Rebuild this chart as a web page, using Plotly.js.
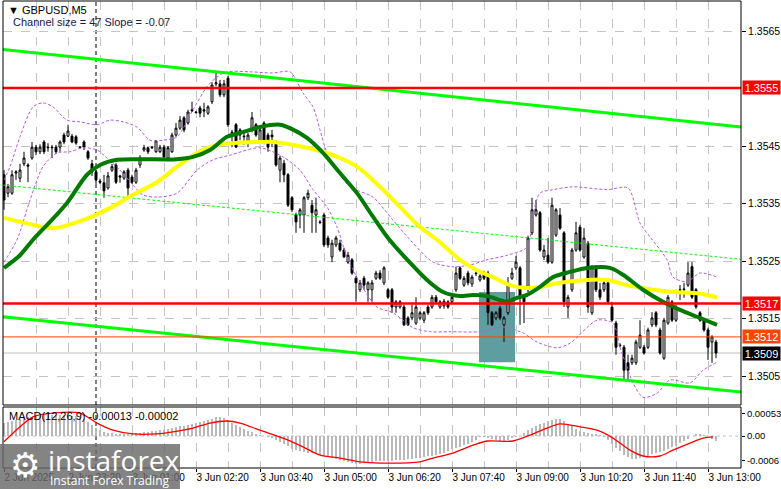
<!DOCTYPE html>
<html><head><meta charset="utf-8">
<script src="https://cdn.plot.ly/plotly-3.0.1.min.js"></script>
<style>html,body{margin:0;padding:0;background:#fff;}#chart{width:781px;height:489px;}</style>
</head><body><div id="chart"></div>
<script>
// ---- OHLC (GBPUSD M5), one entry per bar ----
const open=[1.35400,1.35368,1.35368,1.35403,1.35394,1.35419,1.35417,1.35429,1.35448,1.35440,1.35457,1.35448,1.35448,1.35448,1.35448,1.35469,1.35467,1.35467,1.35466,1.35448,1.35457,1.35440,1.35419,1.35405,1.35389,1.35386,1.35377,1.35408,1.35417,1.35398,1.35394,1.35408,1.35396,1.35387,1.35417,1.35443,1.35447,1.35448,1.35440,1.35440,1.35448,1.35429,1.35440,1.35469,1.35481,1.35499,1.35490,1.35513,1.35509,1.35516,1.35513,1.35507,1.35527,1.35558,1.35558,1.35539,1.35568,1.35474,1.35487,1.35478,1.35466,1.35457,1.35478,1.35487,1.35457,1.35490,1.35469,1.35469,1.35457,1.35408,1.35420,1.35400,1.35360,1.35330,1.35330,1.35330,1.35360,1.35347,1.35330,1.35318,1.35330,1.35290,1.35257,1.35278,1.35281,1.35269,1.35248,1.35252,1.35220,1.35200,1.35220,1.35200,1.35200,1.35220,1.35229,1.35212,1.35200,1.35200,1.35170,1.35170,1.35170,1.35151,1.35151,1.35142,1.35151,1.35147,1.35170,1.35170,1.35187,1.35170,1.35172,1.35179,1.35179,1.35200,1.35238,1.35208,1.35229,1.35210,1.35229,1.35217,1.35229,1.35229,1.35160,1.35151,1.35168,1.35139,1.35160,1.35220,1.35238,1.35238,1.35187,1.35200,1.35299,1.35330,1.35334,1.35257,1.35260,1.35248,1.35295,1.35330,1.35299,1.35170,1.35200,1.35269,1.35309,1.35257,1.35281,1.35160,1.35240,1.35200,1.35200,1.35212,1.35170,1.35142,1.35104,1.35100,1.35073,1.35073,1.35073,1.35100,1.35100,1.35100,1.35139,1.35160,1.35130,1.35081,1.35142,1.35179,1.35147,1.35200,1.35200,1.35208,1.35240,1.35200,1.35160,1.35147,1.35130,1.35109,1.35109];
const high=[1.35408,1.35384,1.35408,1.35408,1.35419,1.35440,1.35420,1.35457,1.35452,1.35453,1.35460,1.35455,1.35452,1.35452,1.35460,1.35473,1.35487,1.35471,1.35469,1.35450,1.35460,1.35443,1.35426,1.35408,1.35393,1.35400,1.35405,1.35419,1.35420,1.35400,1.35408,1.35412,1.35400,1.35412,1.35434,1.35452,1.35448,1.35450,1.35460,1.35452,1.35452,1.35450,1.35473,1.35490,1.35502,1.35502,1.35513,1.35527,1.35511,1.35520,1.35525,1.35521,1.35561,1.35579,1.35565,1.35565,1.35572,1.35478,1.35490,1.35481,1.35478,1.35473,1.35509,1.35490,1.35481,1.35493,1.35473,1.35478,1.35460,1.35433,1.35426,1.35403,1.35363,1.35334,1.35342,1.35363,1.35374,1.35356,1.35360,1.35321,1.35334,1.35294,1.35287,1.35294,1.35287,1.35273,1.35266,1.35255,1.35224,1.35217,1.35224,1.35215,1.35217,1.35233,1.35234,1.35241,1.35203,1.35203,1.35182,1.35182,1.35174,1.35154,1.35174,1.35187,1.35163,1.35163,1.35174,1.35191,1.35191,1.35182,1.35184,1.35182,1.35191,1.35240,1.35241,1.35224,1.35233,1.35226,1.35234,1.35227,1.35233,1.35233,1.35163,1.35163,1.35172,1.35154,1.35222,1.35238,1.35259,1.35241,1.35191,1.35294,1.35360,1.35356,1.35337,1.35278,1.35290,1.35360,1.35342,1.35342,1.35302,1.35191,1.35273,1.35318,1.35313,1.35307,1.35285,1.35243,1.35243,1.35212,1.35217,1.35215,1.35179,1.35146,1.35107,1.35104,1.35087,1.35087,1.35113,1.35147,1.35104,1.35134,1.35161,1.35163,1.35134,1.35151,1.35191,1.35182,1.35174,1.35208,1.35212,1.35248,1.35248,1.35203,1.35163,1.35151,1.35134,1.35121,1.35113];
const low=[1.35339,1.35361,1.35365,1.35391,1.35387,1.35415,1.35387,1.35426,1.35434,1.35436,1.35436,1.35440,1.35429,1.35436,1.35440,1.35453,1.35466,1.35455,1.35452,1.35447,1.35443,1.35426,1.35398,1.35384,1.35384,1.35360,1.35374,1.35405,1.35384,1.35386,1.35391,1.35361,1.35384,1.35384,1.35412,1.35440,1.35436,1.35445,1.35438,1.35438,1.35426,1.35426,1.35438,1.35466,1.35478,1.35474,1.35487,1.35509,1.35507,1.35500,1.35500,1.35504,1.35523,1.35554,1.35535,1.35535,1.35483,1.35448,1.35447,1.35460,1.35452,1.35448,1.35474,1.35466,1.35453,1.35453,1.35440,1.35448,1.35414,1.35387,1.35387,1.35344,1.35335,1.35299,1.35307,1.35299,1.35356,1.35299,1.35299,1.35314,1.35274,1.35273,1.35248,1.35274,1.35266,1.35255,1.35245,1.35226,1.35179,1.35196,1.35200,1.35179,1.35179,1.35217,1.35217,1.35208,1.35184,1.35160,1.35160,1.35167,1.35137,1.35137,1.35147,1.35139,1.35147,1.35142,1.35156,1.35167,1.35175,1.35167,1.35167,1.35167,1.35175,1.35196,1.35217,1.35205,1.35208,1.35205,1.35224,1.35214,1.35217,1.35139,1.35137,1.35147,1.35147,1.35109,1.35156,1.35217,1.35234,1.35139,1.35142,1.35196,1.35295,1.35327,1.35266,1.35252,1.35245,1.35245,1.35292,1.35304,1.35170,1.35151,1.35196,1.35266,1.35266,1.35254,1.35160,1.35156,1.35196,1.35182,1.35196,1.35175,1.35144,1.35087,1.35100,1.35043,1.35043,1.35069,1.35069,1.35097,1.35087,1.35097,1.35135,1.35135,1.35087,1.35078,1.35139,1.35144,1.35144,1.35182,1.35186,1.35205,1.35184,1.35167,1.35144,1.35127,1.35078,1.35073,1.35081];
const close=[1.35356,1.35379,1.35400,1.35405,1.35408,1.35429,1.35415,1.35448,1.35440,1.35448,1.35440,1.35447,1.35447,1.35440,1.35457,1.35457,1.35476,1.35457,1.35455,1.35447,1.35448,1.35429,1.35405,1.35391,1.35387,1.35372,1.35398,1.35414,1.35387,1.35396,1.35405,1.35377,1.35387,1.35408,1.35429,1.35447,1.35440,1.35447,1.35459,1.35448,1.35431,1.35447,1.35469,1.35481,1.35495,1.35478,1.35509,1.35511,1.35508,1.35507,1.35511,1.35518,1.35556,1.35560,1.35539,1.35558,1.35487,1.35473,1.35448,1.35469,1.35467,1.35469,1.35499,1.35469,1.35478,1.35457,1.35448,1.35466,1.35417,1.35429,1.35400,1.35347,1.35339,1.35318,1.35339,1.35360,1.35368,1.35334,1.35339,1.35317,1.35278,1.35278,1.35281,1.35290,1.35269,1.35257,1.35260,1.35229,1.35212,1.35212,1.35208,1.35212,1.35212,1.35229,1.35220,1.35238,1.35187,1.35170,1.35179,1.35179,1.35139,1.35139,1.35160,1.35170,1.35160,1.35160,1.35160,1.35187,1.35179,1.35179,1.35180,1.35170,1.35187,1.35229,1.35220,1.35220,1.35212,1.35222,1.35228,1.35224,1.35220,1.35160,1.35139,1.35160,1.35151,1.35151,1.35208,1.35229,1.35248,1.35187,1.35179,1.35290,1.35339,1.35339,1.35269,1.35269,1.35248,1.35347,1.35339,1.35307,1.35179,1.35187,1.35269,1.35299,1.35269,1.35290,1.35170,1.35240,1.35200,1.35187,1.35212,1.35179,1.35147,1.35100,1.35103,1.35060,1.35060,1.35081,1.35109,1.35121,1.35090,1.35130,1.35151,1.35139,1.35090,1.35147,1.35187,1.35147,1.35170,1.35199,1.35201,1.35229,1.35187,1.35170,1.35147,1.35130,1.35100,1.35118,1.35090];

// ---- MACD(12,26,9) ----
const macdHist=[0.00031,0.00034,0.00036,0.00038,0.00041,0.00043,0.00046,0.00046,0.00048,0.00048,0.0005,0.0005,0.0005,0.0005,0.0005,0.0005,0.0005,0.00048,0.00048,0.00046,0.00041,0.00034,0.00026,0.00019,0.00014,0.0001,0.00007,0.00007,0.00005,0.00005,0.00005,0.00005,0.00005,0.00007,0.00007,0.0001,0.0001,0.00012,0.00012,0.00014,0.00014,0.00017,0.00019,0.00022,0.00024,0.00024,0.00026,0.00029,0.00031,0.00034,0.00036,0.00038,0.00041,0.00046,0.00046,0.00043,0.00038,0.00031,0.00026,0.00022,0.00017,0.00012,0.0001,0.00005,0.00002,0,-0.00002,-0.00005,-0.0001,-0.00014,-0.00019,-0.00024,-0.00031,-0.00034,-0.00036,-0.00038,-0.00041,-0.00041,-0.00043,-0.00046,-0.00048,-0.0005,-0.00053,-0.00055,-0.00058,-0.0006,-0.00062,-0.00065,-0.00067,-0.00067,-0.00065,-0.00062,-0.00062,-0.0006,-0.0006,-0.0006,-0.0006,-0.0006,-0.00058,-0.00058,-0.00058,-0.00055,-0.00055,-0.00053,-0.00053,-0.0005,-0.00048,-0.00048,-0.00046,-0.00043,-0.00041,-0.00036,-0.00031,-0.00029,-0.00026,-0.00022,-0.00019,-0.00014,-0.0001,-0.00002,-0.00002,-0.00005,-0.00007,-0.0001,-0.00012,-0.00012,-0.0001,-0.00005,-0.00002,0,0.00007,0.00014,0.00019,0.00024,0.00029,0.00031,0.00036,0.00038,0.00041,0.00041,0.00036,0.00029,0.00024,0.00017,0.00012,0.0001,0.00007,0.00005,0.00005,0.00002,-0.00002,-0.0001,-0.00019,-0.00029,-0.00036,-0.00046,-0.0005,-0.00055,-0.00055,-0.00053,-0.0005,-0.00048,-0.00043,-0.00041,-0.00038,-0.00036,-0.00031,-0.00026,-0.00024,-0.00017,-0.00012,-0.00007,0,0.00005,0.00005,0.00002,0,-0.00007,-0.00013];
const signalBar=[0,4,7.25,12.25,19,23.25,27.25,32.25,38.25,42.25,47.25,51.5,55.75,59,64,69.75,74.75,79,84,89,94,104,107.25,112.25,117.25,120.75,127.25,131.5,135.75,139,144,148.25,152.25,156.5,159.75,164,167.25,171.5,174.75,177.25];
const signalVal=[-0.00014,0.00022,0.00046,0.00055,0.00055,0.00031,0.00014,0.00005,0.00005,0.0001,0.00019,0.00031,0.00036,0.00031,0.00014,-0.00005,-0.00026,-0.00046,-0.00053,-0.00062,-0.00065,-0.00062,-0.00053,-0.00041,-0.00022,-0.00012,-0.00012,0.00002,0.00019,0.00029,0.00022,0.00014,-0.00005,-0.00034,-0.00048,-0.00048,-0.00034,-0.00017,-0.00005,-0.00002];

// ---- moving averages and bands (read at sample bars) ----
const maGreenBar=[0,4,7.25,11.5,15.75,20.75,24,28.25,34.75,43.25,47.25,51.5,55.75,59.75,64,69,71.5,75.75,79.75,84,88.25,92.25,96,101.5,105.75,109.75,114,117.25,120.75,124,125.75,128.25,130.75,134,137.25,141.5,145.75,151.5,154.75,159.75,164.75,169,173.25,178.25];
const maGreenVal=[1.35238,1.35260,1.35287,1.35318,1.35351,1.35400,1.35417,1.35426,1.35427,1.35427,1.35431,1.35443,1.35466,1.35474,1.35483,1.35487,1.35481,1.35464,1.35438,1.35403,1.35368,1.35327,1.35290,1.35247,1.35217,1.35196,1.35189,1.35191,1.35189,1.35182,1.35179,1.35186,1.35191,1.35205,1.35222,1.35231,1.35238,1.35238,1.35226,1.35200,1.35179,1.35165,1.35153,1.35139];
const maYellowBar=[0,7.25,12.25,19.75,26.5,32.25,38.25,43.25,48.25,53.25,57.25,64,67.25,75.75,82.25,88.25,94,99,104,108.25,114,118.25,122.25,126.5,130.75,134,139,145.75,150.75,155.75,162.25,167.25,173.25,178.25];
const maYellowVal=[1.35325,1.35313,1.35307,1.35321,1.35342,1.35365,1.35387,1.35414,1.35438,1.35452,1.35455,1.35457,1.35457,1.35447,1.35434,1.35414,1.35379,1.35344,1.35309,1.35287,1.35252,1.35234,1.35222,1.35208,1.35203,1.35205,1.35212,1.35217,1.35217,1.35208,1.35200,1.35196,1.35194,1.35187];
const bandUpBar=[0,1.5,4,7.25,9.75,12.25,15.75,19,23.25,26.5,29.75,33.25,36.5,39.75,43.25,47.25,50.75,53.25,55.75,61.5,67.25,71.5,74.75,77.25,79,80.75,83.25,86.5,92.25,97.25,101.5,107.25,112.25,116.5,120.75,125.75,130.75,132.25,134,137.25,142.25,150.75,156,159,161.5,165.75,167.25,170.75,174,178.25];
const bandUpVal=[1.35391,1.35414,1.35466,1.35518,1.35525,1.35518,1.35495,1.35492,1.35487,1.35495,1.35492,1.35483,1.35460,1.35460,1.35466,1.35513,1.35553,1.35570,1.35579,1.35579,1.35577,1.35579,1.35542,1.35518,1.35478,1.35438,1.35408,1.35379,1.35361,1.35321,1.35287,1.35248,1.35240,1.35243,1.35252,1.35260,1.35274,1.35330,1.35368,1.35374,1.35379,1.35374,1.35377,1.35316,1.35292,1.35252,1.35222,1.35214,1.35229,1.35222];
const bandLoBar=[0,3.25,6.5,9.75,13.25,16.5,19.75,23.25,25.75,29,32.25,34.75,38.25,43.25,48.25,52.25,56.5,64,69.75,74,77.25,80.75,83.25,85.75,89,93.25,97.25,102.25,106.5,111.5,119,124.75,129.75,133.25,138.25,141.5,148.25,152.25,154,155.75,157.25,159.75,163.25,166.5,171.5,174.75,178.25];
const bandLoVal=[1.35248,1.35287,1.35356,1.35414,1.35438,1.35440,1.35447,1.35443,1.35429,1.35408,1.35382,1.35365,1.35361,1.35368,1.35408,1.35426,1.35434,1.35447,1.35431,1.35408,1.35374,1.35344,1.35309,1.35257,1.35212,1.35170,1.35160,1.35134,1.35127,1.35127,1.35127,1.35135,1.35125,1.35109,1.35099,1.35107,1.35147,1.35142,1.35100,1.35066,1.35038,1.35013,1.35020,1.35043,1.35038,1.35060,1.35074];

// ---- regression channel (size 47, slope -0.07) ----
const channelBar=[-0.25,184.25];
const channelUpper=[1.35618,1.35483];
const channelMiddle=[1.35382,1.35253];
const channelLower=[1.35153,1.35022];

// ---- levels, zone, labels ----
const levelPrices=[1.35551,1.35176,1.35118,1.35090];
const levelLabels=['1.3555','1.3517','1.3512','1.3509'];
const priceTicks=[1.3505,1.3515,1.3525,1.3535,1.3545,1.3565];
const priceTickText=['1.3505','1.3515','1.3525','1.3535','1.3545','1.3565'];
const macdTicks=[0.00053,0,-0.0006];
const macdTickText=['0.00053','0.00','-0.0006'];
const timeTickBars=[0,16,32,48,64,80,96,112,128,144,160,176];
const timeTickLabels=['2 Jun 2025','2 Jun 23:20','3 Jun 01:00','3 Jun 02:20','3 Jun 03:40','3 Jun 05:00','3 Jun 06:20','3 Jun 07:40','3 Jun 09:00','3 Jun 10:20','3 Jun 11:40','3 Jun 13:00'];
const daySeparatorBar=23;
const zoneBars=[118.75,127.75];
const zonePrices=[1.35074,1.35196];

const bars=open.map((_,i)=>i);
const FONT='Liberation Sans, Arial, sans-serif';

const traces=[
 {type:'bar',x:bars,y:macdHist,xaxis:'x',yaxis:'y2',marker:{color:'#b9b9b9',line:{width:0}},width:0.62,hoverinfo:'skip'},
 {type:'scatter',mode:'lines',x:signalBar,y:signalVal,xaxis:'x',yaxis:'y2',line:{color:'#ff0000',width:1.3,shape:'spline',smoothing:0.8},hoverinfo:'skip'},
 {type:'scatter',mode:'lines',x:bandUpBar,y:bandUpVal,line:{color:'#b25ce0',width:1,dash:'3px,2px',shape:'spline',smoothing:0.8},hoverinfo:'skip'},
 {type:'scatter',mode:'lines',x:bandLoBar,y:bandLoVal,line:{color:'#b25ce0',width:1,dash:'3px,2px',shape:'spline',smoothing:0.8},hoverinfo:'skip'},
 {type:'scatter',mode:'lines',x:channelBar,y:channelMiddle,line:{color:'#00ff00',width:1,dash:'3px,2px'},hoverinfo:'skip'},
 {type:'candlestick',x:bars,open:open,high:high,low:low,close:close,xaxis:'x',yaxis:'y',
  increasing:{line:{color:'#000000',width:1},fillcolor:'#ffffff'},
  decreasing:{line:{color:'#000000',width:1},fillcolor:'#000000'},whiskerwidth:0,hoverinfo:'skip'},
 {type:'scatter',mode:'lines',x:maYellowBar,y:maYellowVal,line:{color:'#ffff00',width:4,shape:'spline',smoothing:0.8},hoverinfo:'skip'},
 {type:'scatter',mode:'lines',x:maGreenBar,y:maGreenVal,line:{color:'#007a00',width:4,shape:'spline',smoothing:0.8},hoverinfo:'skip'},
 {type:'scatter',mode:'lines',x:channelBar,y:channelUpper,line:{color:'#00ff00',width:3},hoverinfo:'skip'},
 {type:'scatter',mode:'lines',x:channelBar,y:channelLower,line:{color:'#00ff00',width:3},hoverinfo:'skip'}
];

const mainDom=[0.1349,1], macdDom=[0,0.1306];
const shapes=[
 {type:'rect',xref:'x',yref:'y',x0:zoneBars[0],x1:zoneBars[1],y0:zonePrices[0],y1:zonePrices[1],fillcolor:'#5f9ea0',line:{width:0},layer:'between'},
 {type:'line',xref:'x',yref:'paper',x0:daySeparatorBar,x1:daySeparatorBar,y0:0,y1:1,line:{color:'#000',width:1,dash:'4px,3px'},layer:'between'},
 {type:'line',xref:'paper',yref:'y',x0:0,x1:1,y0:levelPrices[3],y1:levelPrices[3],line:{color:'#c0c0c0',width:1},layer:'between'},
 {type:'line',xref:'paper',yref:'y',x0:0,x1:1,y0:levelPrices[0],y1:levelPrices[0],line:{color:'#ff0000',width:2.5},layer:'above'},
 {type:'line',xref:'paper',yref:'y',x0:0,x1:1,y0:levelPrices[1],y1:levelPrices[1],line:{color:'#ff0000',width:2.5},layer:'above'},
 {type:'line',xref:'paper',yref:'y',x0:0,x1:1,y0:levelPrices[2],y1:levelPrices[2],line:{color:'#ff4500',width:1},layer:'above'},
 {type:'line',xref:'paper',yref:'y2',x0:0,x1:1,y0:0,y1:0,line:{color:'#c0c0c0',width:1,dash:'3px,3px'},layer:'between'},
 {type:'rect',xref:'paper',yref:'paper',x0:0,x1:1,y0:mainDom[0],y1:mainDom[1],line:{color:'#000',width:1},fillcolor:'rgba(0,0,0,0)',layer:'above'},
 {type:'rect',xref:'paper',yref:'paper',x0:0,x1:1,y0:macdDom[0],y1:macdDom[1],line:{color:'#000',width:1},fillcolor:'rgba(0,0,0,0)',layer:'above'},
 {type:'rect',xref:'paper',yref:'paper',x0:-0.005,x1:0.2398,y0:-0.046,y1:0.0514,fillcolor:'rgba(105,105,105,0.82)',line:{width:0},layer:'above'}
];

const labelBg=['#ff0000','#ff0000','#ff4500','#000000'];
const annotations=[];
levelPrices.forEach((p,i)=>annotations.push({xref:'paper',yref:'y',x:1,y:p,xanchor:'left',yanchor:'middle',xshift:1,
 text:levelLabels[i],showarrow:false,bgcolor:labelBg[i],font:{family:FONT,size:11,color:'#fff'},width:37,height:13,borderpad:0,align:'center'}));
annotations.push({xref:'paper',yref:'paper',x:0.004,y:0.981,xanchor:'left',yanchor:'middle',showarrow:false,text:'▼ GBPUSD,M5',font:{family:FONT,size:11,color:'#000'}});
annotations.push({xref:'paper',yref:'paper',x:0.0105,y:0.955,xanchor:'left',yanchor:'middle',showarrow:false,text:'Channel size = 47 Slope = -0.07',font:{family:FONT,size:11,color:'#1a1a40'}});
annotations.push({xref:'paper',yref:'paper',x:0.0055,y:0.1113,xanchor:'left',yanchor:'middle',showarrow:false,text:'MACD(12,26,9) -0.00013 -0.00002',font:{family:FONT,size:11,color:'#000'}});
annotations.push({xref:'paper',yref:'paper',x:0.0298,y:0.006,xanchor:'center',yanchor:'middle',showarrow:false,text:'⚙',font:{family:'DejaVu Sans',size:34,color:'#fff'}});
annotations.push({xref:'paper',yref:'paper',x:0.058,y:0.018,xanchor:'left',yanchor:'middle',showarrow:false,text:'instaforex',font:{family:'Open Sans, sans-serif',size:28,color:'#fff'}});
annotations.push({xref:'paper',yref:'paper',x:0.061,y:-0.026,xanchor:'left',yanchor:'middle',showarrow:false,text:'Instant Forex Trading',font:{family:'Open Sans, sans-serif',size:12,color:'#fff'}});

const layout={
 width:781,height:489,margin:{l:3,r:40,t:1,b:21},
 paper_bgcolor:'#fff',plot_bgcolor:'#fff',showlegend:false,
 font:{family:FONT,size:10,color:'#000'},
 xaxis:{range:[-0.25,184.25],anchor:'y2',tickmode:'array',tickvals:timeTickBars,ticktext:timeTickLabels,
  ticklabelposition:'outside right',ticks:'outside',ticklen:3,tickcolor:'#000',
  showgrid:true,gridcolor:'#c4c4c4',griddash:'dash',gridwidth:1,
  minor:{tick0:0,dtick:8,showgrid:true,gridcolor:'#c4c4c4',griddash:'dash',gridwidth:1,ticks:''},
  zeroline:false,showline:false,rangeslider:{visible:false},fixedrange:true,tickfont:{family:FONT,size:10,color:'#000'}},
 yaxis:{domain:mainDom,range:[1.3499956,1.3570217],side:'right',anchor:'x',tickmode:'array',tickvals:priceTicks,ticktext:priceTickText,
  showgrid:true,gridcolor:'#c4c4c4',griddash:'dash',gridwidth:1,ticks:'outside',ticklen:4,tickcolor:'#000',zeroline:false,showline:false,
  tickfont:{family:FONT,size:10.5,color:'#000'},fixedrange:true},
 yaxis2:{domain:macdDom,range:[-0.000768,0.000696],side:'right',anchor:'x',tickmode:'array',tickvals:macdTicks,ticktext:macdTickText,
  showgrid:false,ticks:'outside',ticklen:3,tickcolor:'#000',zeroline:false,showline:false,tickfont:{family:FONT,size:9.5,color:'#000'},fixedrange:true},
 bargap:0,shapes:shapes,annotations:annotations
};
Plotly.newPlot('chart',traces,layout,{staticPlot:true,displayModeBar:false});
</script></body></html>
